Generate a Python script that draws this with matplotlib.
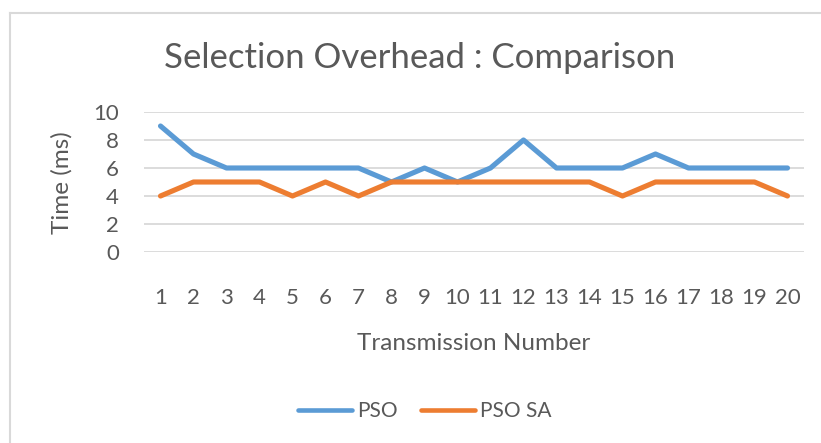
import matplotlib
matplotlib.use("Agg")
import matplotlib.pyplot as plt
from matplotlib.lines import Line2D

transmissions = list(range(1, 21))
pso = [9, 7, 6, 6, 6, 6, 6, 5, 6, 5, 6, 8, 6, 6, 6, 7, 6, 6, 6, 6]
pso_sa = [4, 5, 5, 5, 4, 5, 4, 5, 5, 5, 5, 5, 5, 5, 4, 5, 5, 5, 5, 4]
y_ticks = [0, 2, 4, 6, 8, 10]

plt.rcParams['font.family'] = ['Lato', 'DejaVu Sans']
text_color = '#595959'

fig = plt.figure(figsize=(8.21, 4.43), dpi=100)
W, H = 821, 443
ax = fig.add_axes([144 / W, 1 - 252 / H, 660 / W, 140 / H])

ax.plot(transmissions, pso, color='#5B9BD5', lw=3.7, solid_capstyle='round',
        solid_joinstyle='round', label='PSO', zorder=3)
ax.plot(transmissions, pso_sa, color='#ED7D31', lw=3.7, solid_capstyle='round',
        solid_joinstyle='round', label='PSO SA', zorder=3)

ax.set_xlim(0.5, 20.5)
ax.set_ylim(0, 10)
ax.set_yticks(y_ticks)
ax.set_xticks(transmissions)
ax.yaxis.grid(True, color='#D9D9D9', lw=1.3)
ax.set_axisbelow(True)
for s in ax.spines.values():
    s.set_visible(False)
ax.tick_params(length=0, labelsize=16, colors=text_color)
ax.tick_params(axis='x', pad=26)
ax.tick_params(axis='y', pad=18)

fig.text(420 / W, 1 - 58 / H, 'Selection Overhead : Comparison', ha='center',
         va='center', fontsize=25, color=text_color)
fig.text(62 / W, 1 - 183 / H, 'Time (ms)', ha='center', va='center',
         rotation=90, fontsize=17.5, color=text_color)
fig.text(474 / W, 1 - 343 / H, 'Transmission Number', ha='center', va='center',
         fontsize=17.5, color=text_color)

handles = [Line2D([], [], color='#5B9BD5', lw=3.3, solid_capstyle='round'),
           Line2D([], [], color='#ED7D31', lw=3.3, solid_capstyle='round')]
fig.legend(handles, ['PSO', 'PSO SA'], loc='center', bbox_to_anchor=(425 / W, 1 - 411 / H),
           ncol=2, frameon=False, fontsize=15, labelcolor=text_color,
           handlelength=2.6, handletextpad=0.25, columnspacing=1.1)

# chart border
fig.add_artist(Line2D([10 / W, 10 / W], [0, 1 - 13 / H], color='#D9D9D9', lw=1.5))
fig.add_artist(Line2D([10 / W, 1], [1 - 13 / H, 1 - 13 / H], color='#D9D9D9', lw=1.5))

fig.savefig('out.png', dpi=100)
